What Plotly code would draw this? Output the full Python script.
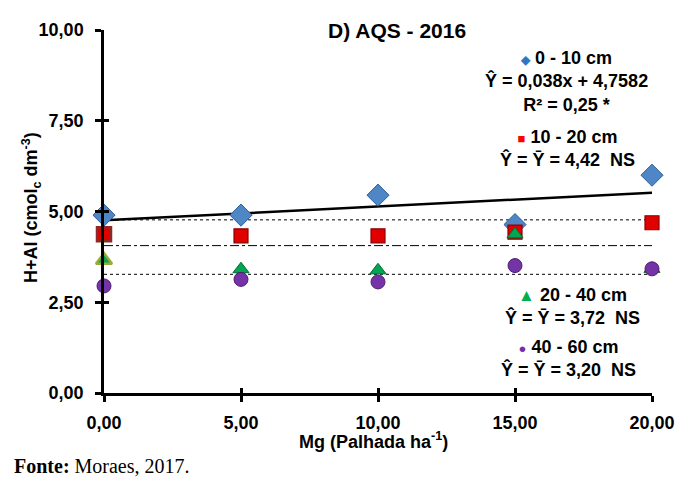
import plotly.graph_objects as go

# ---- data ----
doses = [0, 5, 10, 15, 20]
hal_0_10 = [4.90, 4.90, 5.45, 4.64, 6.00]
hal_10_20 = [4.37, 4.33, 4.33, 4.43, 4.69]
hal_20_40 = [3.66, 3.41, 3.38, 4.37, 3.42]
hal_40_60 = [2.95, 3.13, 3.06, 3.51, 3.42]

slope_0_10 = 0.038
intercept_0_10 = 4.7582

ref_levels = [4.77, 4.06, 3.27]
ref_dashes = ["dot", "dashdot", "dot"]

x_tick_vals = [0, 5, 10, 15, 20]
x_tick_text = ["0,00", "5,00", "10,00", "15,00", "20,00"]
y_tick_vals = [0, 2.5, 5, 7.5, 10]
y_tick_text = ["0,00", "2,50", "5,00", "7,50", "10,00"]

FONT = "Arial, Liberation Sans, sans-serif"

fig = go.Figure()

for lvl, dsh in zip(ref_levels, ref_dashes):
    fig.add_trace(go.Scatter(x=[doses[0], doses[-1]], y=[lvl, lvl], mode="lines",
                             line=dict(color="black", width=1, dash=dsh),
                             hoverinfo="skip", showlegend=False))

fig.add_trace(go.Scatter(x=[doses[0], doses[-1]],
                         y=[intercept_0_10 + slope_0_10 * doses[0],
                            intercept_0_10 + slope_0_10 * doses[-1]],
                         mode="lines", line=dict(color="black", width=2.5),
                         showlegend=False, hoverinfo="skip"))

fig.add_trace(go.Scatter(x=doses, y=hal_0_10, mode="markers", name="0 - 10 cm",
                         cliponaxis=False, showlegend=False,
                         marker=dict(symbol="diamond", size=17, color="#4f86c6",
                                     line=dict(color="#2f5f9a", width=1))))
fig.add_trace(go.Scatter(x=doses, y=hal_10_20, mode="markers", name="10 - 20 cm",
                         cliponaxis=False, showlegend=False,
                         marker=dict(symbol="square", size=14, color="#e00000",
                                     line=dict(color=["#8c2a2a", "#8b0000", "#8b0000", "#8b0000", "#8b0000"],
                                               width=[2.5, 1.2, 1.2, 1.2, 1.2]))))
fig.add_trace(go.Scatter(x=doses, y=hal_20_40, mode="markers", name="20 - 40 cm",
                         cliponaxis=False, showlegend=False,
                         marker=dict(symbol="triangle-up", size=14, color="#00a651",
                                     line=dict(color=["#9bab3a", "#006b30", "#006b30", "#006b30", "#006b30"],
                                               width=[2.5, 1, 1, 1, 1]))))
fig.add_trace(go.Scatter(x=doses, y=hal_40_60, mode="markers", name="40 - 60 cm",
                         cliponaxis=False, showlegend=False,
                         marker=dict(symbol="circle", size=14, color="#7434a8",
                                     line=dict(color="#4b1f6f", width=1))))

fig.add_trace(go.Scatter(x=[None], y=[None], xaxis="x2", yaxis="y2",
                         showlegend=False, hoverinfo="skip"))

axis_common = dict(showgrid=False, zeroline=False, showline=True,
                   linecolor="black", linewidth=2.5, tickcolor="black",
                   tickwidth=2.5, ticklen=6, ticks="outside",
                   tickfont=dict(family=FONT, size=18, color="black", weight="bold"))

# page has an 8 px body margin, so the figure is 8 px smaller than the window
fig.update_layout(
    width=686, height=472,
    margin=dict(l=96, r=42, t=16, b=87),
    paper_bgcolor="white", plot_bgcolor="white",
    xaxis=dict(range=[0, 20], tickmode="array", tickvals=x_tick_vals,
               ticktext=x_tick_text, ticklabelstandoff=6, **axis_common),
    yaxis=dict(range=[0, 10], tickmode="array", tickvals=y_tick_vals,
               ticktext=y_tick_text, ticklabelstandoff=8, **axis_common),
    xaxis2=dict(range=[0, 20], overlaying="x", anchor="y2", side="bottom",
                tickmode="array", tickvals=x_tick_vals, ticks="inside",
                ticklen=5, tickwidth=2.5, tickcolor="black", showticklabels=False,
                showgrid=False, zeroline=False, showline=False),
    yaxis2=dict(range=[0, 10], overlaying="y", anchor="x2", side="left",
                tickmode="array", tickvals=y_tick_vals, ticks="inside",
                ticklen=5, tickwidth=2.5, tickcolor="black", showticklabels=False,
                showgrid=False, zeroline=False, showline=False),
    showlegend=False,
)

bold = dict(family=FONT, size=18, color="black", weight="bold")

# positions given in window pixels (plot area spans x 104..652, y 24..393)
ann = [
    dict(text="D) AQS - 2016", x=397, y=24, font=dict(family=FONT, size=21, color="black", weight="bold")),
    dict(text='<span style="color:#2e75c6;font-size:12px">◆</span> 0 - 10 cm<br>Ŷ = 0,038x + 4,7582<br>R² = 0,25 *',
         x=566, y=76, font=bold),
    dict(text='<span style="color:#ff0000;font-size:13px">■</span> 10 - 20 cm<br>Ŷ = Ȳ = 4,42  NS',
         x=567, y=144, font=bold),
    dict(text='<span style="color:#00b050;font-size:17px">▲</span> 20 - 40 cm<br>Ŷ = Ȳ = 3,72  NS',
         x=572, y=305, font=bold),
    dict(text='<span style="color:#7030a0;font-size:13px">●</span> 40 - 60 cm<br>Ŷ = Ȳ = 3,20  NS',
         x=568, y=358, font=bold),
    dict(text="Mg (Palhada ha<sup>-1</sup>)", x=373, y=441,
         font=dict(family=FONT, size=18, color="black", weight="bold")),
    dict(text="H+Al (cmol<sub>c</sub> dm<sup>-3</sup>)", x=31, y=205, textangle=-90,
         font=dict(family=FONT, size=18, color="black", weight="bold")),
]
for a in ann:
    extra = {k: v for k, v in a.items() if k not in ("x", "y")}
    fig.add_annotation(xref="paper", yref="paper", showarrow=False,
                       xanchor="center", yanchor="middle",
                       x=(a["x"] - 104) / 548, y=(393 - a["y"]) / 369, **extra)

fig.add_annotation(xref="paper", yref="paper", showarrow=False,
                   xanchor="left", yanchor="middle",
                   x=(12 - 104) / 548, y=(393 - 467) / 369,
                   text="<b>Fonte:</b> Moraes, 2017.",
                   font=dict(family="Times New Roman, Liberation Serif, serif", size=20, color="black"))

fig.write_html("out.html")
